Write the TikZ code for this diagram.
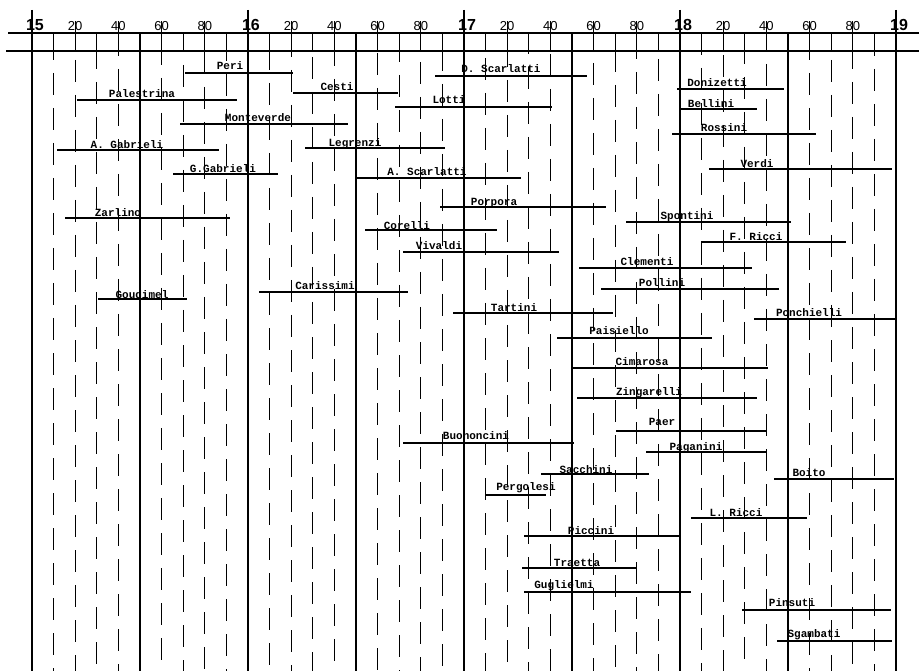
\documentclass[tikz,border=0pt]{standalone}
\usepackage{fontspec}
\newfontfamily\chartmono{Liberation Mono}
\newfontfamily\chartsans{Liberation Sans}
\newcommand\lifebar[7]{% x1 x2 y labelx labely name text
  \draw[barline] (#1,#3) -- (#2,#3);
  \node[lbl] (#6) at (#4,#5+3.5) {#7};
}
\begin{document}
\begin{tikzpicture}[x=1pt,y=-1pt,
  centuryline/.style={line width=2.1pt},
  halfline/.style={line width=1.1pt},
  decline/.style={line width=1.1pt, dash pattern=on 22pt off 13pt},
  axisline/.style={line width=1.6pt},
  barline/.style={line width=1.4pt},
  lbl/.style={font=\chartmono\bfseries\fontsize{11}{12}\selectfont, inner sep=0pt, anchor=base},
  centlbl/.style={font=\chartsans\bfseries\fontsize{16}{16}\selectfont, inner sep=0pt, anchor=base},
  declbl/.style={font=\chartsans\fontsize{13}{13}\selectfont, inner sep=0pt, anchor=base}]
\useasboundingbox (0,0) rectangle (919,671);
\fill[white] (0,0) rectangle (919,671);
% grid
\foreach \d in {0,...,40}{
  \pgfmathsetmacro\xx{32+\d*21.6}
  \pgfmathtruncatemacro\mt{mod(\d,10)}
  \pgfmathtruncatemacro\mf{mod(\d,5)}
  \pgfmathtruncatemacro\mtw{mod(\d,2)}
  \pgfmathtruncatemacro\ph{mod(\d*13,35)}
  \ifnum\mt=0
    \draw[centuryline] (\xx,10) -- (\xx,671);
    \pgfmathtruncatemacro\cl{15+\d/10}
    \node[centlbl] (c\d) at (\xx+3,31) {\cl};
  \else
    \ifnum\mf=0
      \draw[halfline] (\xx,33) -- (\xx,671);
    \else
      \draw[halfline] (\xx,33) -- (\xx,51);
      \draw[decline, dash phase=\ph pt] (\xx,51) -- (\xx,671);
    \fi
    \ifnum\mtw=0
      \draw[halfline] (\xx,21) -- (\xx,33);
      \pgfmathtruncatemacro\dl{\mt*10}
      \node[declbl] (t\d) at (\xx,31) {\dl};
    \fi
  \fi
}
% axis lines
\draw[axisline] (8,33) -- (919,33);
\draw[line width=1.3pt] (6,51) -- (919,51);
% lifespans
\lifebar{185}{293}{73}{230}{66}{peri}{Peri}
\lifebar{293}{398}{93}{337}{87}{cesti}{Cesti}
\lifebar{435}{587}{76}{501}{69}{dscarlatti}{D. Scarlatti}
\lifebar{77}{237}{100}{142}{94}{palestrina}{Palestrina}
\lifebar{395}{552}{107}{449}{100}{lotti}{Lotti}
\lifebar{677}{784}{89}{717}{83}{donizetti}{Donizetti}
\lifebar{681}{757}{109}{711}{104}{bellini}{Bellini}
\lifebar{180}{348}{124}{258}{118}{monteverde}{Monteverde}
\lifebar{672}{816}{134}{724}{128}{rossini}{Rossini}
\lifebar{57}{219}{150}{127}{145}{agabrieli}{A. Gabrieli}
\lifebar{305}{445}{148}{355}{143}{legrenzi}{Legrenzi}
\lifebar{173}{278}{174}{223}{169}{ggabrieli}{G.Gabrieli}
\lifebar{357}{521}{178}{427}{172}{ascarlatti}{A. Scarlatti}
\lifebar{709}{892}{169}{757}{164}{verdi}{Verdi}
\lifebar{440}{606}{207}{494}{202}{porpora}{Porpora}
\lifebar{65}{230}{218}{118}{213}{zarlino}{Zarlino}
\lifebar{626}{791}{222}{687}{216}{spontini}{Spontini}
\lifebar{365}{497}{230}{407}{226}{corelli}{Corelli}
\lifebar{701}{846}{242}{756}{237}{fricci}{F. Ricci}
\lifebar{403}{559}{252}{439}{246}{vivaldi}{Vivaldi}
\lifebar{579}{752}{268}{647}{262}{clementi}{Clementi}
\lifebar{601}{779}{289}{662}{283}{pollini}{Pollini}
\lifebar{259}{408}{292}{325}{286}{carissimi}{Carissimi}
\lifebar{98}{187}{299}{142}{295}{goudimel}{Goudimel}
\lifebar{453}{613}{313}{514}{308}{tartini}{Tartini}
\lifebar{754}{896}{319}{809}{313}{ponchielli}{Ponchielli}
\lifebar{557}{712}{338}{619}{331}{paisiello}{Paisiello}
\lifebar{572}{768}{368}{642}{362}{cimarosa}{Cimarosa}
\lifebar{577}{757}{398}{649}{392}{zingarelli}{Zingarelli}
\lifebar{616}{766}{431}{662}{422}{paer}{Paer}
\lifebar{403}{574}{443}{476}{436}{buononcini}{Buononcini}
\lifebar{646}{767}{452}{696}{447}{paganini}{Paganini}
\lifebar{541}{649}{474}{586}{470}{sacchini}{Sacchini}
\lifebar{774}{894}{479}{809}{473}{boito}{Boito}
\lifebar{486}{546}{495}{526}{487}{pergolesi}{Pergolesi}
\lifebar{691}{807}{518}{736}{513}{lricci}{L. Ricci}
\lifebar{524}{679}{536}{591}{531}{piccini}{Piccini}
\lifebar{522}{636}{568}{577}{563}{traetta}{Traetta}
\lifebar{524}{691}{592}{564}{585}{guglielmi}{Guglielmi}
\lifebar{742}{891}{610}{792}{603}{pinsuti}{Pinsuti}
\lifebar{777}{892}{641}{814}{634}{sgambati}{Sgambati}
\end{tikzpicture}
\end{document}
